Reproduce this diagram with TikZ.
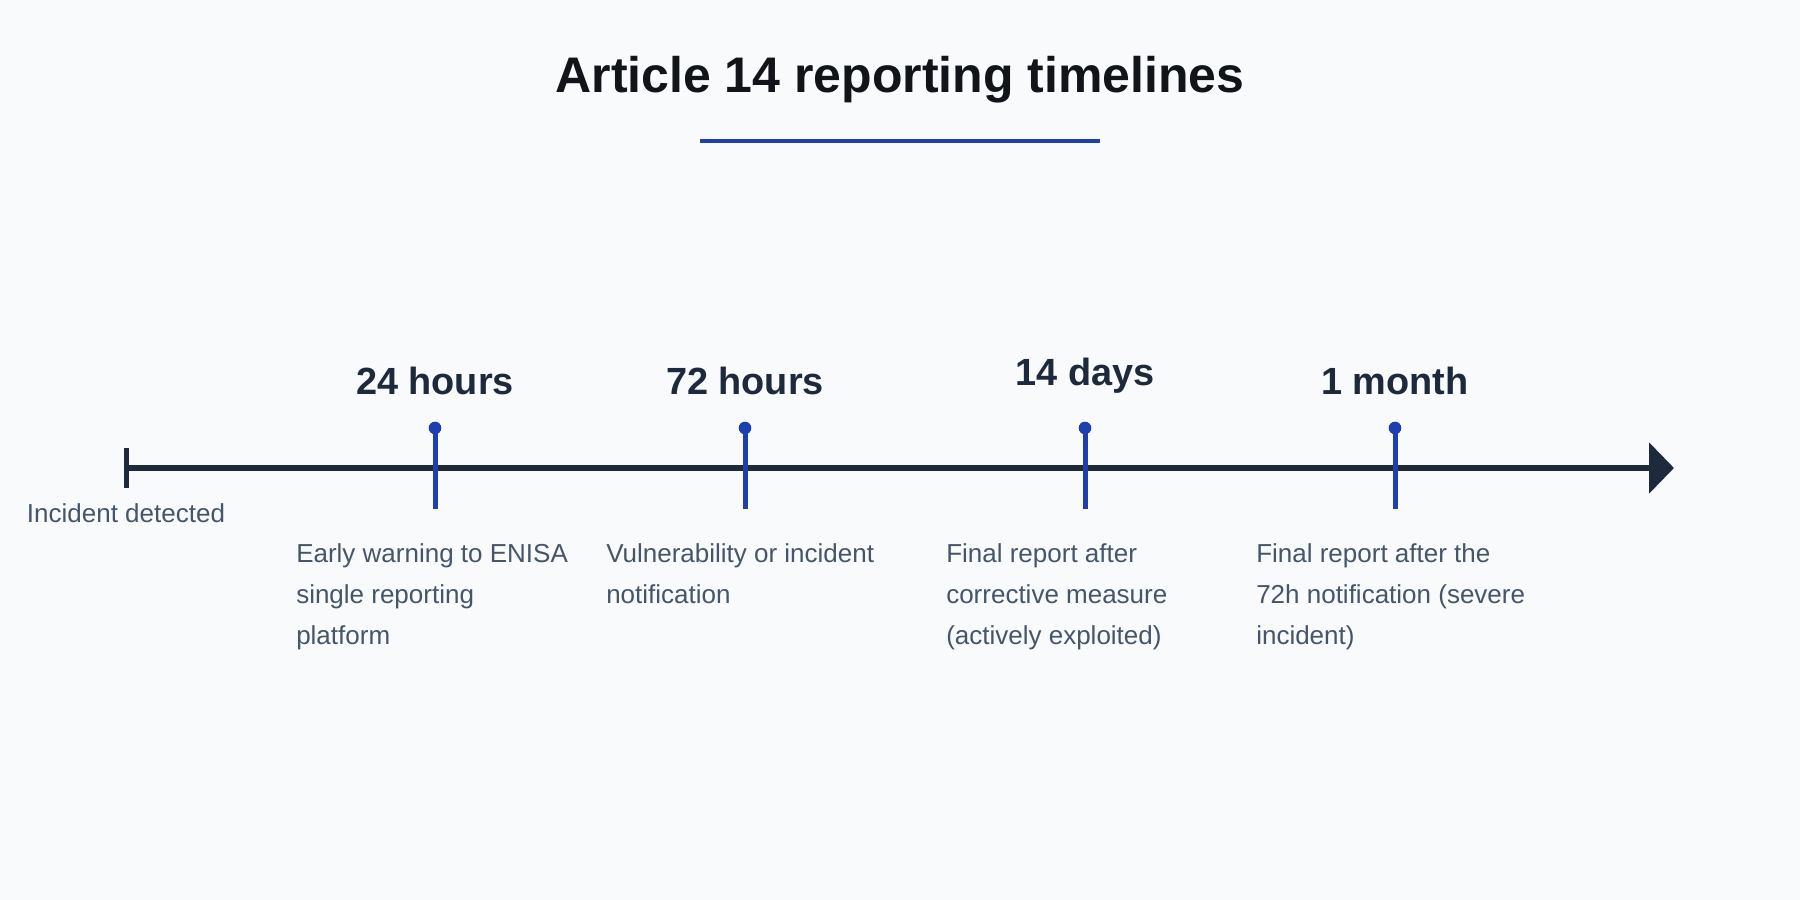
\documentclass[tikz,border=0pt]{standalone}
\usepackage{fontspec}
\setmainfont{Liberation Sans}
\usetikzlibrary{arrows.meta,calc}
\definecolor{bgc}{HTML}{F8FAFC}
\definecolor{titlec}{HTML}{111418}
\definecolor{axisc}{HTML}{1E293B}
\definecolor{bluec}{HTML}{1E40AF}
\definecolor{descc}{HTML}{475569}
\tikzset{
  titletext/.style={font=\fontsize{37.5}{45}\selectfont\bfseries, text=titlec, anchor=base, inner sep=0pt},
  rule/.style={draw=bluec, line width=2.8pt},
  axisline/.style={draw=axisc, line width=4.5pt, -{Triangle[length=18.75pt,width=37.5pt]}},
  starttick/.style={draw=axisc, line width=3.75pt},
  mtick/.style={draw=bluec, line width=3.75pt},
  mdot/.style={circle, fill=bluec, inner sep=0pt, minimum size=9.5pt},
  labtext/.style={font=\fontsize{28.4}{33}\selectfont\bfseries, text=axisc, anchor=base, inner sep=0pt},
  desctext/.style={font=\fontsize{19.5}{30.75}\selectfont, text=descc, anchor=base west, inner sep=0pt, align=left},
  starttext/.style={font=\fontsize{19.5}{30.75}\selectfont, text=descc, anchor=base, inner sep=0pt}
}
\begin{document}
\begin{tikzpicture}[x=0.75pt,y=-0.75pt]
\fill[bgc] (0,0) rectangle (1800,900);
\useasboundingbox (0,0) rectangle (1800,900);
% title
\node[titletext] (title) at (900,92) {Article 14 reporting timelines};
\coordinate (ruleL) at (700,141);
\coordinate (ruleR) at (1100,141);
\draw[rule] (ruleL) -- (ruleR);
% axis
\coordinate (start) at (126,468);
\coordinate (end) at (1674,468);
\draw[axisline] (start) -- (end);
\coordinate (startT) at (126,448);
\coordinate (startB) at (126,488);
\draw[starttick] (startT) -- (startB);
\node[starttext] (startlab) at (126,522) {Incident detected};
% milestones (desc anchor = baseline of last line)
\foreach \i/\x/\ly/\dy/\lab/\desc in {
  1/435/394/644/{24 hours}/{Early warning to ENISA\\single reporting\\platform},
  2/745/394/603/{72 hours}/{Vulnerability or incident\\notification},
  3/1085/385/644/{14 days}/{Final report after\\corrective measure\\(actively exploited)},
  4/1395/394/644/{1 month}/{Final report after the\\72h notification (severe\\incident)}}{
  \coordinate (top\i) at (\x,428);
  \coordinate (bot\i) at (\x,509);
  \draw[mtick] (top\i) -- (bot\i);
  \node[mdot] (dot\i) at (top\i) {};
  \node[labtext] (lab\i) at (\x,\ly) {\lab};
  \node[desctext] (desc\i) at ($(\x,\dy)+(-139,0)$) {\desc};
}
\end{tikzpicture}
\end{document}
